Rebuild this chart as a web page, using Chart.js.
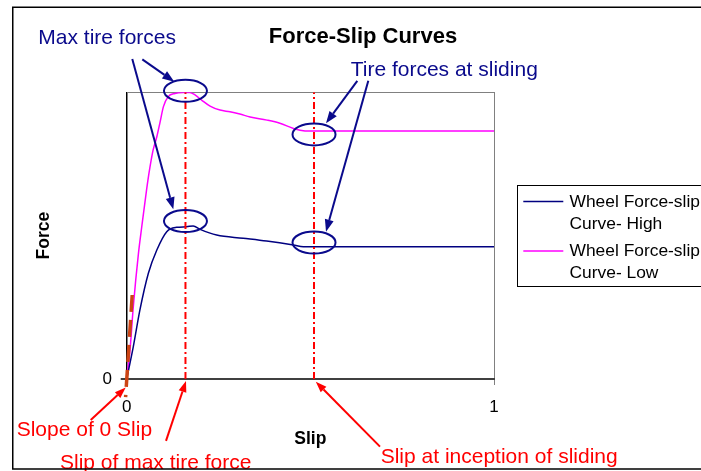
<!DOCTYPE html>
<html><head><meta charset="utf-8">
<script src="https://cdn.jsdelivr.net/npm/chart.js@4/dist/chart.umd.min.js"></script>
<style>html,body{margin:0;padding:0;background:#fff;overflow:hidden}</style>
</head><body>
<canvas id="c" width="701" height="471"></canvas>
<script>
// ---- data ----
const chartTitle = 'Force-Slip Curves';
const xAxisTitle = 'Slip';
const yAxisTitle = 'Force';
const xTickLabels = ['0', '1'];
const yTickLabels = ['0'];
const seriesNames = [['Wheel Force-slip', 'Curve- High'], ['Wheel Force-slip', 'Curve- Low']];

const highSlip  = [0, 0.018, 0.036, 0.059, 0.082, 0.109, 0.136, 0.163, 0.181, 0.200, 0.245, 0.317, 0.381, 0.454, 0.481, 0.51, 1.0];
const highForce = [0, 0.113, 0.241, 0.369, 0.450, 0.514, 0.529, 0.531, 0.534, 0.522, 0.502, 0.491, 0.481, 0.467, 0.461, 0.461, 0.461];

const lowSlip  = [0, 0.009, 0.018, 0.032, 0.041, 0.054, 0.063, 0.072, 0.082, 0.091, 0.100, 0.113, 0.131, 0.154, 0.172, 0.186, 0.204, 0.227, 0.254, 0.281, 0.308, 0.336, 0.382, 0.417, 0.454, 0.472, 0.499, 0.51, 1.0];
const lowForce = [0, 0.101, 0.252, 0.438, 0.531, 0.659, 0.736, 0.799, 0.845, 0.897, 0.950, 0.985, 0.996, 0.999, 0.999, 0.991, 0.973, 0.952, 0.938, 0.932, 0.924, 0.914, 0.903, 0.892, 0.874, 0.868, 0.865, 0.865, 0.865];

const markerSlips = [0.16, 0.51];          // slip of max tire force, slip at inception of sliding
const slopeSlip = [0.015, -0.003];         // slope-at-zero-slip tangent (top end first)
const slopeForce = [0.293, -0.063];

const annotationTexts = ['Max tire forces', 'Tire forces at sliding', 'Slope of 0 Slip', 'Slip of max tire force', 'Slip at inception of sliding'];

// ---- annotation geometry (data units, converted through the scales) ----
const ellipseCenters = [[0.16, 1.005], [0.16, 0.551], [0.51, 0.853], [0.51, 0.476]];
const navyArrows = [[0.0425, 1.115, 0.1296, 1.037], [0.0152, 1.116, 0.1269, 0.592], [0.6278, 1.040, 0.5426, 0.892], [0.6578, 1.040, 0.5426, 0.514]];
const redArrows = [[-0.098, -0.143, -0.0027, -0.030], [0.107, -0.216, 0.1614, -0.007], [0.6896, -0.236, 0.5149, -0.0094]];

const FONT = "'Liberation Sans', Arial, sans-serif";
const NAVY = '#0A0A8C';

function pts(xs, ys) { return xs.map((x, i) => ({x: x, y: ys[i]})); }

function arrow(ctx, x1, y1, x2, y2, color, lw, hl, hw) {
  const a = Math.atan2(y2 - y1, x2 - x1);
  const bx = x2 - hl * Math.cos(a), by = y2 - hl * Math.sin(a);
  ctx.strokeStyle = color; ctx.fillStyle = color; ctx.lineWidth = lw;
  ctx.beginPath(); ctx.moveTo(x1, y1); ctx.lineTo(bx, by); ctx.stroke();
  ctx.beginPath(); ctx.moveTo(x2, y2);
  ctx.lineTo(bx + hw / 2 * Math.sin(a), by - hw / 2 * Math.cos(a));
  ctx.lineTo(bx - hw / 2 * Math.sin(a), by + hw / 2 * Math.cos(a));
  ctx.closePath(); ctx.fill();
}

const decor = {
  id: 'decor',
  beforeDraw(chart) {
    const ctx = chart.ctx, a = chart.chartArea;
    ctx.save();
    ctx.fillStyle = '#fff'; ctx.fillRect(0, 0, chart.width, chart.height);
    ctx.strokeStyle = '#808080'; ctx.lineWidth = 1;
    ctx.strokeRect(Math.round(a.left) + 0.5, Math.round(a.top) + 0.5, Math.round(a.right - a.left), Math.round(a.bottom - a.top));
    ctx.restore();
  },
  afterDatasetsDraw(chart) {
    const ctx = chart.ctx, xs = chart.scales.x, ys = chart.scales.y;
    const X = v => xs.getPixelForValue(v), Y = v => ys.getPixelForValue(v);
    ctx.save();
    ctx.strokeStyle = NAVY; ctx.lineWidth = 2;
    ellipseCenters.forEach(c => {
      ctx.beginPath(); ctx.ellipse(X(c[0]), Y(c[1]), 21.5, 11, 0, 0, Math.PI * 2); ctx.stroke();
    });
    navyArrows.forEach(r => arrow(ctx, X(r[0]), Y(r[1]), X(r[2]), Y(r[3]), NAVY, 2, 12, 9));
    redArrows.forEach(r => arrow(ctx, X(r[0]), Y(r[1]), X(r[2]), Y(r[3]), '#FF0000', 2, 11, 8));
    ctx.restore();
  },
  afterDraw(chart) {
    const ctx = chart.ctx;
    ctx.save();
    // annotation texts
    ctx.font = '21px ' + FONT; ctx.textBaseline = 'alphabetic'; ctx.textAlign = 'left';
    ctx.fillStyle = NAVY;
    ctx.fillText(annotationTexts[0], 38.3, 44.3);
    ctx.fillText(annotationTexts[1], 350.7, 76);
    ctx.fillStyle = '#FF0000';
    ctx.fillText(annotationTexts[2], 16.7, 436);
    ctx.fillText(annotationTexts[3], 60, 468.7);
    ctx.fillText(annotationTexts[4], 380.7, 463.3);
    // legend
    ctx.strokeStyle = '#000'; ctx.lineWidth = 1;
    ctx.strokeRect(517.5, 185.5, 200, 101);
    const ds = chart.data.datasets;
    const entries = [{c: ds[3].borderColor, ly: 201.5, b: [206.7, 229.3], t: seriesNames[0]},
                     {c: ds[4].borderColor, ly: 251, b: [256, 278.3], t: seriesNames[1]}];
    ctx.font = '17.4px ' + FONT; ctx.fillStyle = '#000';
    entries.forEach(e => {
      ctx.strokeStyle = e.c; ctx.lineWidth = 1.5;
      ctx.beginPath(); ctx.moveTo(523.3, e.ly); ctx.lineTo(563.3, e.ly); ctx.stroke();
      ctx.fillText(e.t[0], 569.5, e.b[0]);
      ctx.fillText(e.t[1], 569.5, e.b[1]);
    });
    // outer frame
    ctx.strokeStyle = '#000'; ctx.lineWidth = 1.5;
    ctx.strokeRect(12.75, 7.25, 700, 461.75);
    ctx.restore();
  }
};

new Chart(document.getElementById('c'), {
  type: 'line',
  data: {
    datasets: [
      {label: 'Slope of 0 Slip', data: pts(slopeSlip, slopeForce), borderColor: '#CC4414', borderWidth: 3.5, borderDash: [17, 8], pointRadius: 0, clip: false, order: -1},
      {label: 'Slip of max tire force', data: pts([markerSlips[0], markerSlips[0]], [0, 1]), borderColor: '#FF0000', borderWidth: 2, borderDash: [7, 3, 2, 3], pointRadius: 0},
      {label: 'Slip at inception of sliding', data: pts([markerSlips[1], markerSlips[1]], [0, 1]), borderColor: '#FF0000', borderWidth: 2, borderDash: [7, 3, 2, 3], pointRadius: 0},
      {label: seriesNames[0].join(' '), data: pts(highSlip, highForce), borderColor: '#000080', borderWidth: 1.5, pointRadius: 0, cubicInterpolationMode: 'monotone'},
      {label: seriesNames[1].join(' '), data: pts(lowSlip, lowForce), borderColor: '#FF00FF', borderWidth: 1.5, pointRadius: 0, cubicInterpolationMode: 'monotone'}
    ]
  },
  options: {
    responsive: false, animation: false, devicePixelRatio: 1,
    layout: {padding: {left: 25, top: 0, right: 0, bottom: 0}},
    plugins: {
      legend: {display: false},
      tooltip: {enabled: false},
      title: {display: true, text: chartTitle, color: '#000', font: {family: FONT, size: 22, weight: 'bold'}, padding: {top: 24.2, bottom: 41.7}}
    },
    scales: {
      x: {
        type: 'linear', position: 'bottom', min: 0, max: 1,
        afterFit: s => { s.height = 92; },
        ticks: {stepSize: 1, color: '#000', font: {family: FONT, size: 17}, padding: 11.8, maxRotation: 0,
                callback: (v) => xTickLabels[Math.round(v)] ?? ''},
        grid: {display: true, drawOnChartArea: false, drawTicks: true, tickLength: 6, color: '#808080', lineWidth: 1},
        border: {display: true, color: '#404040', width: 2},
        title: {display: true, text: xAxisTitle, color: '#000', font: {family: FONT, size: 17.5, weight: 'bold'}, padding: {top: 0, bottom: 21.6}}
      },
      y: {
        type: 'linear', position: 'left', min: 0, max: 1,
        afterFit: s => { s.width = 101.7; },
        ticks: {stepSize: 1, color: '#000', font: {family: FONT, size: 17}, padding: 8.7,
                callback: (v) => v === 0 ? yTickLabels[0] : ''},
        grid: {display: true, drawOnChartArea: false, drawTicks: true, tickLength: 6, lineWidth: 2,
               color: c => (c.tick && c.tick.value === 0) ? '#404040' : 'rgba(0,0,0,0)'},
        border: {display: true, color: '#000', width: 1},
        title: {display: true, text: yAxisTitle, color: '#000', font: {family: FONT, size: 17.5, weight: 'bold'}, padding: {top: 8.4, bottom: 0}}
      },
      yR: {
        type: 'linear', position: 'right', display: true,
        afterFit: s => { s.width = 207; },
        ticks: {display: false}, grid: {display: false}, border: {display: false}
      }
    }
  },
  plugins: [decor]
});
</script>
</body></html>
